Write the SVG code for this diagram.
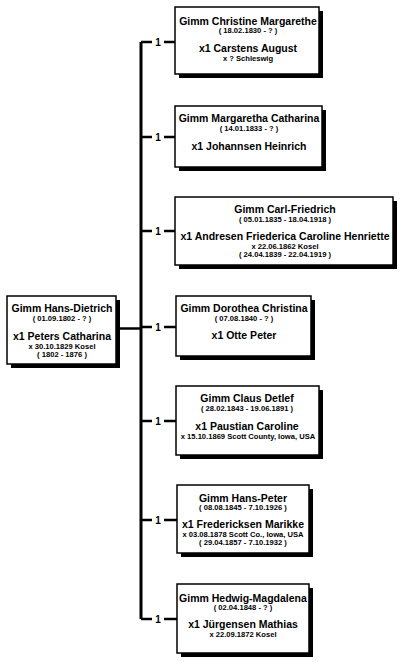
<svg xmlns="http://www.w3.org/2000/svg" width="409" height="665" viewBox="0 0 409 665">
<style>
.shadow{fill:#000}
.box{fill:#fff;stroke:#000;stroke-width:1.5}
text{font-family:"Liberation Sans",Arial,sans-serif;font-weight:bold;fill:#000;text-anchor:middle}
.n{font-size:10.5px}
.s{font-size:7.6px}
.one{font-size:10px}
.ln{stroke:#000;stroke-width:2.5;fill:none}
</style>
<rect width="409" height="665" fill="#fff"/>
<g id="connectors">
<path class="ln" d="M117 328.5H141"/>
<path class="ln" d="M141 42V619" style="stroke-width:3"/>
<path class="ln" d="M141 42H152M164 42H176"/>
<path class="ln" d="M141 137H152M164 137H176"/>
<path class="ln" d="M141 231H152M164 231H176"/>
<path class="ln" d="M141 327H152M164 327H176"/>
<path class="ln" d="M141 421H152M164 421H176"/>
<path class="ln" d="M141 520H152M164 520H177"/>
<path class="ln" d="M141 619H152M164 619H177"/>
<text class="one" x="158" y="45.5">1</text>
<text class="one" x="158" y="140.5">1</text>
<text class="one" x="158" y="234.5">1</text>
<text class="one" x="158" y="330.5">1</text>
<text class="one" x="158" y="424.5">1</text>
<text class="one" x="158" y="523.5">1</text>
<text class="one" x="158" y="622.5">1</text>
</g>
<g id="root">
<rect class="shadow" x="11" y="300" width="109" height="68"/>
<rect class="box" x="7" y="296" width="109" height="68"/>
<text class="n" x="62" y="312">Gimm Hans-Dietrich</text>
<text class="s" x="62" y="321">( 01.09.1802 - ? )</text>
<text class="n" x="62" y="340">x1 Peters Catharina</text>
<text class="s" x="62" y="348.5">x 30.10.1829 Kosel</text>
<text class="s" x="62" y="356.5">( 1802 - 1876 )</text>
</g>
<g id="c1">
<rect class="shadow" x="179" y="11" width="144" height="67"/>
<rect class="box" x="175" y="7" width="144" height="67"/>
<text class="n" x="248" y="24.5">Gimm Christine Margarethe</text>
<text class="s" x="248" y="33">( 18.02.1830 - ? )</text>
<text class="n" x="248" y="52">x1 Carstens August</text>
<text class="s" x="248" y="60.5">x ? Schleswig</text>
</g>
<g id="c2">
<rect class="shadow" x="179" y="110" width="147" height="61"/>
<rect class="box" x="175" y="106" width="147" height="61"/>
<text class="n" x="249" y="122">Gimm Margaretha Catharina</text>
<text class="s" x="249" y="130.5">( 14.01.1833 - ? )</text>
<text class="n" x="249" y="150">x1 Johannsen Heinrich</text>
</g>
<g id="c3">
<rect class="shadow" x="179" y="201" width="218" height="68"/>
<rect class="box" x="175" y="197" width="218" height="68"/>
<text class="n" x="285" y="213">Gimm Carl-Friedrich</text>
<text class="s" x="285" y="221.5">( 05.01.1835 - 18.04.1918 )</text>
<text class="n" x="285" y="240">x1 Andresen Friederica Caroline Henriette</text>
<text class="s" x="285" y="248.5">x 22.06.1862 Kosel</text>
<text class="s" x="285" y="257">( 24.04.1839 - 22.04.1919 )</text>
</g>
<g id="c4">
<rect class="shadow" x="180" y="300" width="135" height="60"/>
<rect class="box" x="176" y="296" width="135" height="60"/>
<text class="n" x="244" y="312">Gimm Dorothea Christina</text>
<text class="s" x="244" y="320.5">( 07.08.1840 - ? )</text>
<text class="n" x="244" y="339">x1 Otte Peter</text>
</g>
<g id="c5">
<rect class="shadow" x="180" y="390" width="143" height="69"/>
<rect class="box" x="176" y="386" width="143" height="69"/>
<text class="n" x="247" y="402">Gimm Claus Detlef</text>
<text class="s" x="247" y="411">( 28.02.1843 - 19.06.1891 )</text>
<text class="n" x="247" y="430">x1 Paustian Caroline</text>
<text class="s" x="248" y="438.5">x 15.10.1869 Scott County, Iowa, USA</text>
</g>
<g id="c6">
<rect class="shadow" x="181" y="489" width="132" height="68"/>
<rect class="box" x="177" y="485" width="132" height="68"/>
<text class="n" x="243" y="501.5">Gimm Hans-Peter</text>
<text class="s" x="243" y="510">( 08.08.1845 - 7.10.1926 )</text>
<text class="n" x="243" y="528">x1 Fredericksen Marikke</text>
<text class="s" x="243" y="536.5">x 03.08.1878 Scott Co., Iowa, USA</text>
<text class="s" x="243" y="545">( 29.04.1857 - 7.10.1932 )</text>
</g>
<g id="c7">
<rect class="shadow" x="181" y="588" width="132" height="69"/>
<rect class="box" x="177" y="584" width="132" height="69"/>
<text class="n" x="243" y="601.5">Gimm Hedwig-Magdalena</text>
<text class="s" x="243" y="610">( 02.04.1848 - ? )</text>
<text class="n" x="243" y="628">x1 Jürgensen Mathias</text>
<text class="s" x="243" y="636.5">x 22.09.1872 Kosel</text>
</g>
</svg>
